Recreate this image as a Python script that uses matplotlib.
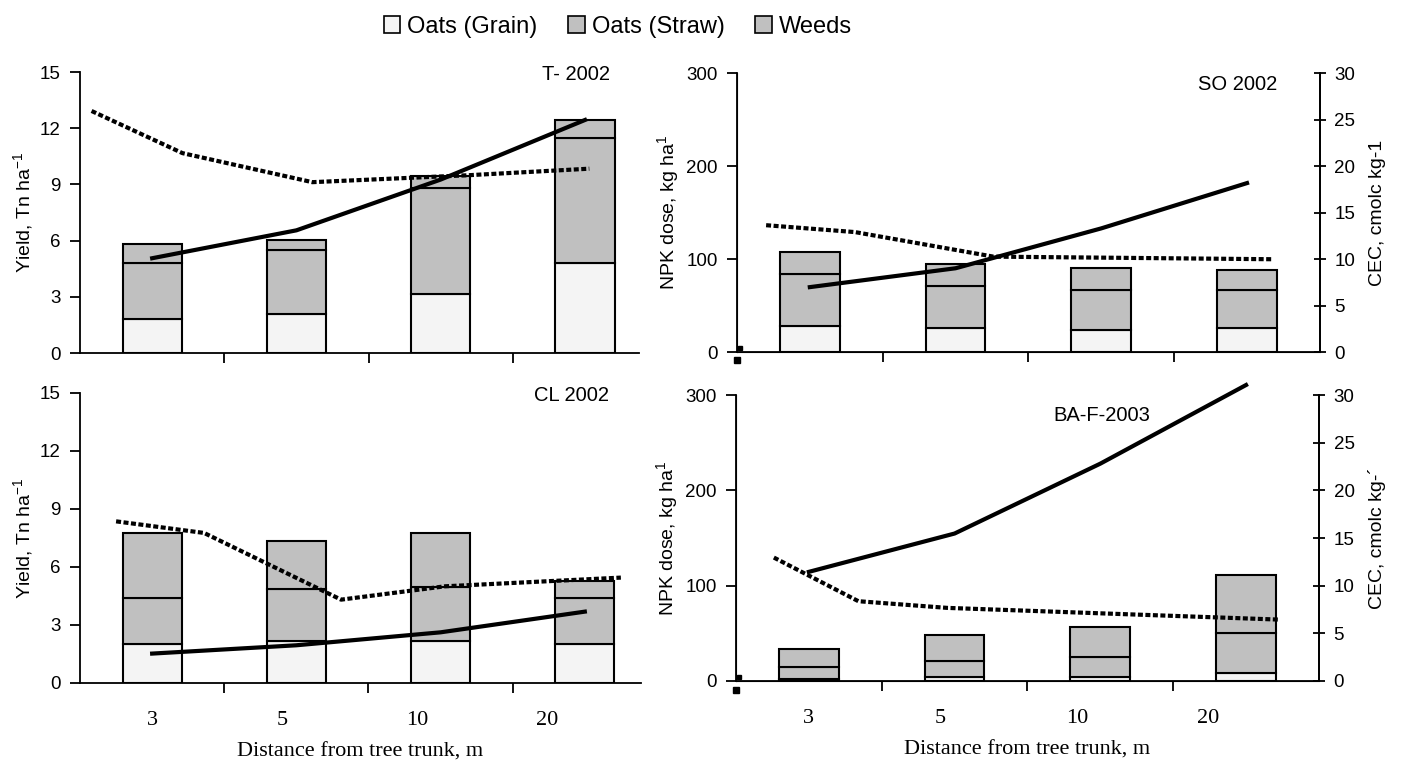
import matplotlib.pyplot as plt
from matplotlib.patches import Patch

plt.rcParams['font.family'] = ['Liberation Sans', 'DejaVu Sans']

distances = ["3", "5", "10", "20"]
label_pos = [0, 0.9, 1.84, 2.74]

# T- 2002 (yield, Tn ha-1)
t_grain = [1.79, 2.09, 3.15, 4.83]
t_straw = [3.01, 3.41, 5.66, 6.64]
t_weeds = [1.04, 0.55, 0.66, 0.95]
t_solid = [5.06, 6.55, 9.26, 12.44]
t_dash_x = [-0.42, 0.21, 1.11, 2.19, 3.03]
t_dash = [12.92, 10.67, 9.12, 9.49, 9.84]

# CL 2002 (yield, Tn ha-1)
cl_grain = [2.03, 2.17, 2.17, 2.03]
cl_straw = [2.38, 2.67, 2.80, 2.38]
cl_weeds = [3.35, 2.50, 2.79, 0.87]
cl_solid = [1.52, 1.95, 2.62, 3.69]
cl_dash_x = [-0.25, 0.36, 1.31, 2.03, 3.25]
cl_dash = [8.36, 7.76, 4.31, 5.0, 5.45]

# SO 2002 (kg ha-1)
so_grain = [27.8, 25.6, 23.5, 26.0]
so_straw = [55.9, 44.9, 43.5, 41.0]
so_weeds = [23.5, 23.9, 23.1, 21.0]
so_npk = [69.8, 90.1, 133.0, 181.7]
so_cec_x = [-0.3, 0.31, 1.26, 3.18]
so_cec = [13.64, 12.9, 10.26, 9.98]

# BA-F-2003 (kg ha-1)
ba_grain = [2.5, 4.2, 4.2, 8.4]
ba_straw = [12.2, 16.8, 21.0, 42.0]
ba_weeds = [19.3, 27.0, 31.5, 61.3]
ba_npk = [114.5, 154.7, 228.0, 310.5]
ba_cec_x = [-0.24, 0.34, 0.95, 2.0, 3.23]
ba_cec = [12.95, 8.37, 7.67, 7.1, 6.44]

grain_col = '#f4f4f4'
gray_col = '#c0c0c0'


def stacked_bars(ax, grain, straw, weeds):
    x = range(len(grain))
    bottom2 = [g + s for g, s in zip(grain, straw)]
    ax.bar(x, grain, 0.41, color=grain_col, edgecolor='black', linewidth=1.5, zorder=2)
    ax.bar(x, straw, 0.41, bottom=grain, color=gray_col, edgecolor='black', linewidth=1.5, zorder=2)
    ax.bar(x, weeds, 0.41, bottom=bottom2, color=gray_col, edgecolor='black', linewidth=1.5, zorder=2)


def x_axis(ax, show_labels):
    ax.set_xticks([0.5, 1.5, 2.5], minor=True)
    ax.tick_params(axis='x', which='minor', direction='out', length=7, width=1.3)
    if show_labels:
        ax.set_xticks(label_pos)
        ax.set_xticklabels(distances, family='Liberation Serif', fontsize=16)
        ax.tick_params(axis='x', which='major', length=0, pad=20)
        ax.set_xlabel('Distance from tree trunk, m', family='Liberation Serif', fontsize=16, labelpad=9)
    else:
        ax.set_xticks([])


def left_panel(ax, grain, straw, weeds, solid, dash_x, dash, title, xmax, show_labels):
    stacked_bars(ax, grain, straw, weeds)
    ax.plot(range(len(solid)), solid, color='black', linewidth=3, zorder=3, clip_on=False)
    ax.plot(dash_x, dash, color='black', linewidth=3, linestyle=(0, (1.2, 0.6)), zorder=3, clip_on=False)
    ax.set_xlim(-0.5, xmax)
    ax.set_ylim(0, 15)
    ax.set_yticks([0, 3, 6, 9, 12, 15])
    ax.tick_params(axis='y', direction='out', length=7, width=1.3, labelsize=13.5, pad=7)
    for s in ['top', 'right']:
        ax.spines[s].set_visible(False)
    for s in ['left', 'bottom']:
        ax.spines[s].set_linewidth(1.3)
    ax.set_ylabel('Yield, Tn ha$^{\\mathregular{-1}}$', fontsize=14, labelpad=3)
    ax.text(3.17, 14.85, title, ha='right', va='center', fontsize=14.5)
    x_axis(ax, show_labels)


def right_panel(ax, grain, straw, weeds, npk, cec_x, cec, title, tx, ty, ha, show_labels, cec_label):
    stacked_bars(ax, grain, straw, weeds)
    ax.plot(range(len(npk)), npk, color='black', linewidth=3, zorder=3, clip_on=False)
    ax.set_xlim(-0.5, 3.5)
    ax.set_ylim(0, 300)
    ax.set_yticks([0, 100, 200, 300])
    ax.tick_params(axis='y', direction='out', length=7, width=1.3, labelsize=13.5, pad=7)
    ax.spines['top'].set_visible(False)
    for s in ['left', 'bottom', 'right']:
        ax.spines[s].set_linewidth(1.3)
    ax.set_ylabel('NPK dose, kg ha$^{\\mathregular{1}}$', fontsize=14, labelpad=3)
    ax.text(tx, ty, title, ha=ha, va='center', fontsize=14.5)
    # small marks near the origin
    ax.plot([-0.5], [-9], marker='s', color='black', markersize=4, clip_on=False)
    ax.plot([-0.48], [4], marker='s', color='black', markersize=3.5, clip_on=False)
    x_axis(ax, show_labels)

    ax2 = ax.twinx()
    ax2.plot(cec_x, cec, color='black', linewidth=3, linestyle=(0, (1.2, 0.6)), zorder=3, clip_on=False)
    ax2.set_ylim(0, 30)
    ax2.set_yticks([0, 5, 10, 15, 20, 25, 30])
    ax2.tick_params(axis='y', direction='inout', length=9, width=1.3, labelsize=13.5, pad=6)
    ax2.spines['top'].set_visible(False)
    ax2.spines['right'].set_linewidth(1.3)
    ax2.set_ylabel(cec_label, fontsize=14, labelpad=10)


fig = plt.figure(figsize=(14.04, 7.62), dpi=100)

ax_tl = fig.add_axes([0.0570, 0.5367, 0.3981, 0.3688])
ax_bl = fig.add_axes([0.0570, 0.1037, 0.3996, 0.3806])
ax_tr = fig.add_axes([0.5249, 0.5380, 0.4152, 0.3661])
ax_br = fig.add_axes([0.5242, 0.1063, 0.4152, 0.3753])

left_panel(ax_tl, t_grain, t_straw, t_weeds, t_solid, t_dash_x, t_dash, 'T- 2002', 3.374, False)
left_panel(ax_bl, cl_grain, cl_straw, cl_weeds, cl_solid, cl_dash_x, cl_dash, 'CL 2002', 3.39, True)
right_panel(ax_tr, so_grain, so_straw, so_weeds, so_npk, so_cec_x, so_cec,
            'SO 2002', 3.21, 288, 'right', False, 'CEC, cmolc kg-1')
right_panel(ax_br, ba_grain, ba_straw, ba_weeds, ba_npk, ba_cec_x, ba_cec,
            'BA-F-2003', 2.01, 278, 'center', True, 'CEC, cmolc kg-´')

# legend
handles = [Patch(facecolor=grain_col, edgecolor='black', linewidth=1.2),
           Patch(facecolor=gray_col, edgecolor='black', linewidth=1.2),
           Patch(facecolor=gray_col, edgecolor='black', linewidth=1.2)]
fig.legend(handles, ['Oats (Grain)', 'Oats (Straw)', 'Weeds'], loc='center',
           bbox_to_anchor=(0.44, 0.965), ncol=3, frameon=False, fontsize=17,
           handlelength=0.7, handleheight=0.7, handletextpad=0.3, columnspacing=1.3)

fig.savefig('out.png', dpi=100)
